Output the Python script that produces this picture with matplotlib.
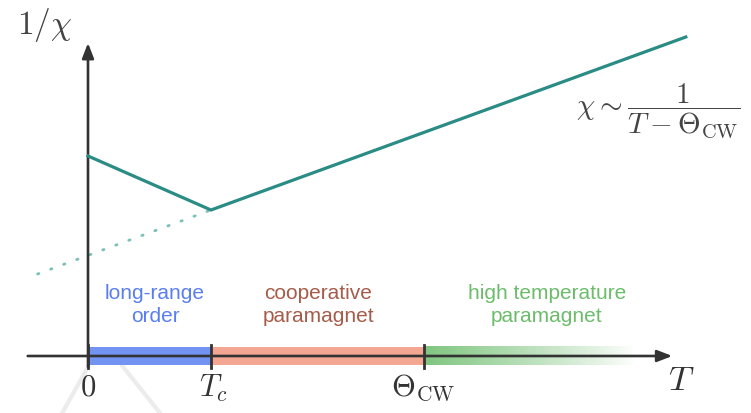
import numpy as np
import matplotlib.pyplot as plt

plt.rcParams["mathtext.fontset"] = "cm"
plt.rcParams["font.family"] = ["Liberation Sans", "DejaVu Sans"]

# 1/chi curve (schematic units, Tc = 1)
T_line = [0.0, 1.0, 4.86]
inv_chi = [2.0, 1.46, 3.19]

# Curie-Weiss extrapolation below Tc
T_cw = [-0.41, 1.0]
inv_chi_cw = [0.82, 1.46]

# regime boundaries along T axis
T_zero, T_c, theta_cw, T_fade = 0.0, 1.0, 2.73, 4.45
regime_labels = ["long-range\norder", "cooperative\nparamagnet", "high temperature\nparamagnet"]
regime_colors = ["#7393f3", "#f3a691", "#5ab45a"]
label_colors = ["#5a7ef0", "#a65c4a", "#6cbc6c"]

fig = plt.figure(figsize=(7.51, 4.14), dpi=100)
ax = fig.add_axes([0, 0, 1, 1])
ax.set_xlim(-0.7154, 5.390)
ax.set_ylim(-0.57, 3.57)
ax.axis("off")

axis_col = "#333333"
band_h = 0.09

# colored bands
ax.fill_between([T_zero, T_c], -band_h, band_h, color=regime_colors[0], lw=0, zorder=1)
ax.fill_between([T_c, theta_cw], -band_h, band_h, color=regime_colors[1], lw=0, zorder=1)
grad = np.zeros((1, 256, 4))
grad[..., :3] = [0x5a / 255, 0xb4 / 255, 0x5a / 255]
grad[..., 3] = np.linspace(0.75, 0.0, 256) ** 0.9
ax.imshow(grad, extent=[theta_cw, T_fade, -band_h, band_h], aspect="auto",
          interpolation="bilinear", zorder=1)

# faint gray wedge below 0
ax.plot([0.0, -0.21], [-0.11, -0.57], color="#ececec", lw=3.0, zorder=0)
ax.plot([0.28, 0.585], [-0.10, -0.57], color="#ececec", lw=3.0, zorder=0)

# axes with arrows
ax.annotate("", xy=(4.75, 0), xytext=(-0.49, 0),
            arrowprops=dict(arrowstyle="-|>,head_length=0.9,head_width=0.35",
                            color=axis_col, lw=1.9, shrinkA=0, shrinkB=0), zorder=3)
ax.annotate("", xy=(0, 3.13), xytext=(0, -0.11),
            arrowprops=dict(arrowstyle="-|>,head_length=0.9,head_width=0.35",
                            color=axis_col, lw=1.9, shrinkA=0, shrinkB=0), zorder=3)

# tick marks
for t in [T_zero, T_c, theta_cw]:
    ax.plot([t, t], [-0.115, 0.11], color=axis_col, lw=2.0, zorder=3)

# curve and extrapolation
ax.plot(T_line, inv_chi, color="#2a8c84", lw=2.3, solid_joinstyle="miter", zorder=4)
ax.plot(T_cw, inv_chi_cw, color="#7cc0b6", lw=2.0, linestyle=(0, (0.5, 4.5)),
        dash_capstyle="round", zorder=2)

# tick labels
ax.text(T_zero, -0.31, r"$0$", fontsize=22, ha="center", va="center", color="#333333")
ax.text(T_c + 0.02, -0.31, r"$T_c$", fontsize=22, ha="center", va="center", color="#333333")
ax.text(theta_cw - 0.01, -0.31, r"$\Theta_{\rm CW}$", fontsize=22, ha="center", va="center", color="#333333")
ax.text(4.82, -0.24, r"$T$", fontsize=25, ha="center", va="center", color="#333333")
ax.text(-0.35, 3.32, r"$1/\chi$", fontsize=24, ha="center", va="center", color="#444444")
ax.text(4.64, 2.46, r"$\chi \sim \dfrac{1}{T - \Theta_{\rm CW}}$", fontsize=21,
        ha="center", va="center", color="#444444")

# regime labels
label_x = [0.545, 1.87, 3.73]
for x, lab, c in zip(label_x, regime_labels, label_colors):
    ax.text(x, 0.52, lab, fontsize=15, ha="center", va="center", color=c,
            linespacing=1.3)

fig.savefig("out.png", dpi=100)
